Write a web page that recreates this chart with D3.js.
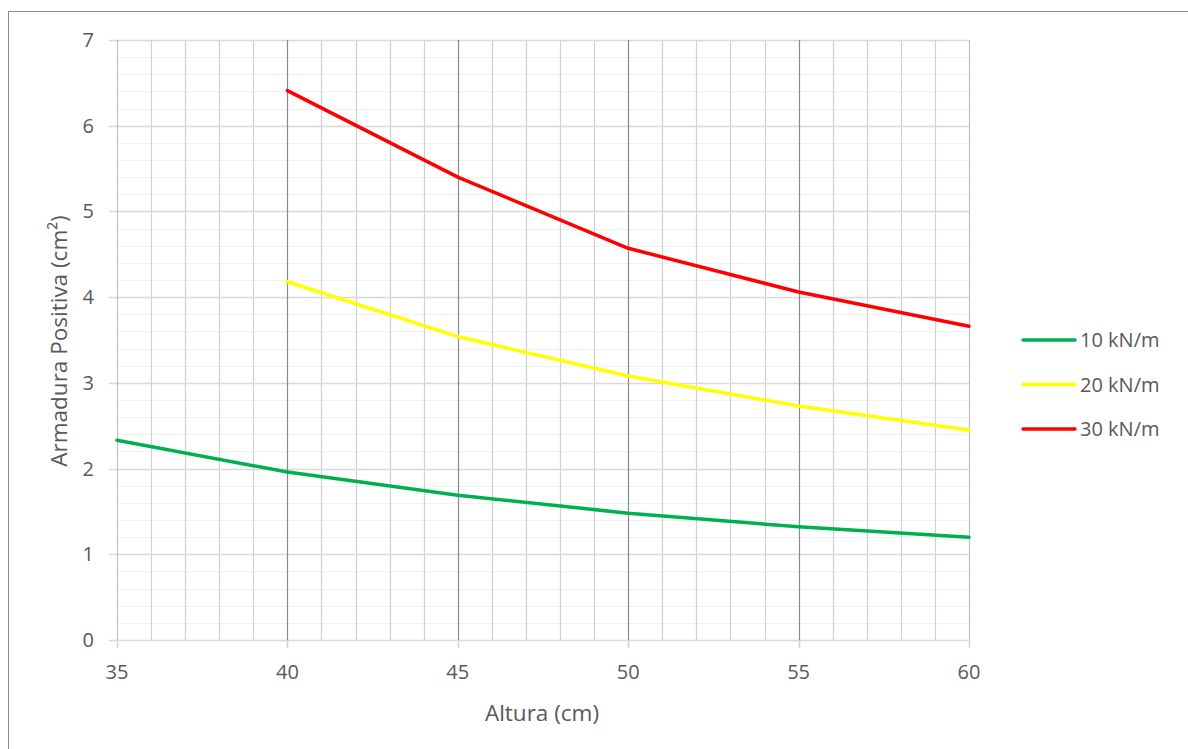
<!DOCTYPE html>
<html>
<head>
<meta charset="utf-8">
<script src="https://cdn.jsdelivr.net/npm/d3@7"></script>
<style>
  body { margin: 0; background: #fff; }
  svg text { font-family: "Open Sans", sans-serif; fill: #595959; }
</style>
</head>
<body>
<svg id="chart" width="1188" height="749"></svg>
<script>
// data
const alturas = [35, 40, 45, 50, 55, 60]
const serieNames = ["10 kN/m", "20 kN/m", "30 kN/m"]
const serieColors = ["#00b050", "#ffff00", "#ff0000"]
const s10 = [2.33, 1.96, 1.69, 1.48, 1.32, 1.20]
const s20 = [null, 4.18, 3.54, 3.08, 2.73, 2.45]
const s30 = [null, 6.41, 5.40, 4.57, 4.06, 3.66]
const xTicks = [35, 40, 45, 50, 55, 60]
const yTicks = [0, 1, 2, 3, 4, 5, 6, 7]

const svg = d3.select("#chart")

// outer chart frame (runs off right/bottom like the source)
svg.append("rect")
    .attr("x", 8.5).attr("y", 11.5)
    .attr("width", 1200).attr("height", 800)
    .attr("fill", "none").attr("stroke", "#8c8c8c").attr("stroke-width", 1)

const x = d3.scaleLinear().domain([35, 60]).range([117, 969])
const y = d3.scaleLinear().domain([0, 7]).range([640, 40])

const grid = svg.append("g")

// minor horizontal lines every 0.2
d3.range(0, 7.01, 0.2).filter(v => Math.abs(v - Math.round(v)) > 0.01).forEach(v => {
    grid.append("line")
        .attr("x1", x(35)).attr("x2", x(60))
        .attr("y1", Math.round(y(v)) + 0.5).attr("y2", Math.round(y(v)) + 0.5)
        .attr("stroke", "#f2f2f2").attr("stroke-width", 1.2)
})
// minor vertical lines every 1
d3.range(36, 60).filter(v => v % 5 != 0).forEach(v => {
    grid.append("line")
        .attr("x1", Math.round(x(v)) + 0.5).attr("x2", Math.round(x(v)) + 0.5)
        .attr("y1", y(7)).attr("y2", y(0))
        .attr("stroke", "#d0d0d0").attr("stroke-width", 1.2)
})
// major horizontal lines
yTicks.forEach(v => {
    grid.append("line")
        .attr("x1", x(35) - 8).attr("x2", x(60))
        .attr("y1", Math.round(y(v)) + 0.5).attr("y2", Math.round(y(v)) + 0.5)
        .attr("stroke", "#d9d9d9").attr("stroke-width", 1.5)
})
// major vertical lines
xTicks.forEach(v => {
    grid.append("line")
        .attr("x1", Math.round(x(v)) + 0.5).attr("x2", Math.round(x(v)) + 0.5)
        .attr("y1", y(7)).attr("y2", y(0))
        .attr("stroke", (v == 35 || v == 60) ? "#bfbfbf" : "#8a8a8a").attr("stroke-width", 1.2)
})
// x tick marks below the axis
xTicks.forEach(v => {
    grid.append("line")
        .attr("x1", Math.round(x(v)) + 0.5).attr("x2", Math.round(x(v)) + 0.5)
        .attr("y1", y(0)).attr("y2", y(0) + 8)
        .attr("stroke", "#d0d0d0").attr("stroke-width", 1.5)
})

// tick labels
svg.append("g").selectAll("text").data(yTicks).join("text")
    .attr("x", 94).attr("y", d => y(d)).attr("dy", "0.35em")
    .attr("text-anchor", "end").attr("font-size", 20)
    .text(d => d)
svg.append("g").selectAll("text").data(xTicks).join("text")
    .attr("x", d => x(d)).attr("y", 679)
    .attr("text-anchor", "middle").attr("font-size", 20)
    .text(d => d)

// axis titles
svg.append("text")
    .attr("x", 542).attr("y", 721)
    .attr("text-anchor", "middle").attr("font-size", 22.5)
    .text("Altura (cm)")
svg.append("text")
    .attr("transform", "translate(67,341) rotate(-90)")
    .attr("text-anchor", "middle").attr("font-size", 22.5)
    .text("Armadura Positiva (cm²)")

// lines
const series = [s10, s20, s30]
const line = d3.line()
    .defined(d => d[1] != null)
    .x(d => x(d[0])).y(d => y(d[1]))
series.forEach((s, i) => {
    svg.append("path")
        .datum(alturas.map((a, j) => [a, s[j]]))
        .attr("d", line)
        .attr("fill", "none")
        .attr("stroke", serieColors[i])
        .attr("stroke-width", 3.5)
        .attr("stroke-linejoin", "round")
        .attr("stroke-linecap", "round")
})

// legend
const leg = svg.append("g")
serieNames.forEach((n, i) => {
    let ly = 340 + i * 44.5
    leg.append("line")
        .attr("x1", 1023).attr("x2", 1075).attr("y1", ly).attr("y2", ly)
        .attr("stroke", serieColors[i]).attr("stroke-width", 3.5).attr("stroke-linecap", "round")
    leg.append("text")
        .attr("x", 1080).attr("y", ly).attr("dy", "0.35em")
        .attr("font-size", 20)
        .text(n)
})
</script>
</body>
</html>
